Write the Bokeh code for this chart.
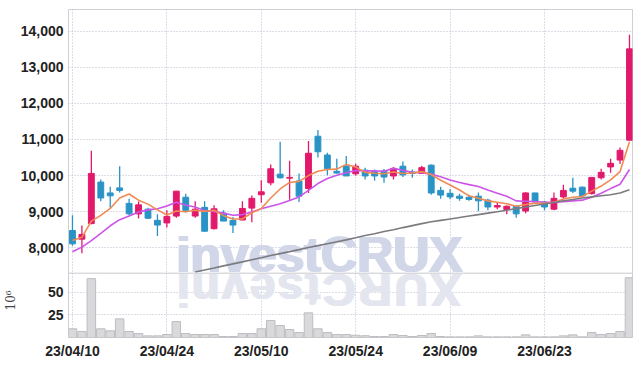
from bokeh.plotting import figure
from bokeh.models import Range1d, FixedTicker, NumeralTickFormatter, Span, Title
from bokeh.embed import file_html
from bokeh.resources import INLINE
from bokeh.core.properties import value
import math

# ---------------- data ----------------
dates = ["23/04/10", "23/04/11", "23/04/12", "23/04/13", "23/04/14", "23/04/17", "23/04/18", "23/04/19", "23/04/20", "23/04/21",
         "23/04/24", "23/04/25", "23/04/26", "23/04/27", "23/04/28", "23/05/02", "23/05/03", "23/05/04", "23/05/08", "23/05/09",
         "23/05/10", "23/05/11", "23/05/12", "23/05/15", "23/05/16", "23/05/17", "23/05/18", "23/05/19", "23/05/22", "23/05/23",
         "23/05/24", "23/05/25", "23/05/26", "23/05/30", "23/05/31", "23/06/01", "23/06/02", "23/06/05", "23/06/07", "23/06/08",
         "23/06/09", "23/06/12", "23/06/13", "23/06/14", "23/06/15", "23/06/16", "23/06/19", "23/06/20", "23/06/21", "23/06/22",
         "23/06/23", "23/06/26", "23/06/27", "23/06/28", "23/06/29", "23/06/30", "23/07/03", "23/07/04", "23/07/05", "23/07/06"]

opens = [8480, 8240, 8670, 9820, 9520, 9660, 9230, 8940, 9070, 8760,
         8690, 8880, 9400, 8880, 9120, 8530, 8960, 8760, 8770, 9100,
         9470, 9800, 10040, 9930, 9850, 9640, 11090, 10570, 10120, 10260,
         10050, 10150, 10110, 10130, 9990, 10260, 10100, 10060, 10290, 9590,
         9510, 9430, 9400, 9430, 9320, 9130, 9060, 9150, 9020, 9520,
         9270, 9070, 9410, 9650, 9680, 9500, 9940, 10240, 10430, 10980]
highs = [8900, 8620, 10690, 9890, 9690, 10260, 9360, 9280, 9110, 8930,
         9040, 9570, 9500, 9290, 9290, 9180, 9040, 8850, 9290, 9450,
         9870, 10310, 10940, 10410, 10060, 10960, 11260, 10630, 10470, 10540,
         10330, 10220, 10170, 10180, 10240, 10390, 10170, 10270, 10310, 9690,
         9630, 9500, 9470, 9530, 9360, 9240, 9170, 9180, 9540, 9520,
         9300, 9530, 9750, 9940, 9700, 9960, 10190, 10470, 10780, 13900]
lows = [8060, 7850, 8650, 9290, 9110, 9530, 8900, 8810, 8800, 8330,
        8560, 8830, 8980, 8830, 8450, 8510, 8740, 8410, 8760, 8710,
        9250, 9730, 9920, 9330, 9270, 9520, 10500, 10010, 10060, 9990,
        10000, 9890, 9860, 9800, 9890, 9960, 9940, 10060, 9470, 9360,
        9350, 9300, 9300, 9010, 9040, 9070, 8930, 8830, 8960, 9270,
        9040, 9040, 9360, 9520, 9430, 9480, 9890, 10080, 10320, 10980]
closes = [8110, 8370, 10060, 9380, 9440, 9590, 8940, 9190, 8820, 8630,
          8870, 9570, 9040, 9070, 8460, 9080, 8740, 8630, 9090, 9370,
          9550, 10190, 9940, 9950, 9430, 10620, 10660, 10190, 10070, 9990,
          10260, 9990, 9990, 9960, 10200, 10020, 10060, 10220, 9520, 9460,
          9410, 9370, 9340, 9300, 9130, 9170, 9150, 8940, 9520, 9270,
          9130, 9370, 9590, 9570, 9440, 9950, 10090, 10340, 10700, 13510]

ma_short = [8200, 8290, 8740, 8900, 9090, 9380, 9490, 9320, 9210, 9050,
            8910, 9020, 9000, 9040, 9010, 9040, 8890, 8800, 8800, 8970,
            9090, 9380, 9630, 9810, 9840, 10000, 10120, 10170, 10180, 10310,
            10240, 10090, 10065, 10050, 10100, 10060, 10070, 10110, 10030, 9870,
            9740, 9600, 9440, 9370, 9300, 9260, 9220, 9150, 9200, 9230,
            9230, 9260, 9350, 9400, 9420, 9570, 9710, 9880, 10110, 10940]
ma_mid = [7890, 8020, 8200, 8400, 8610, 8780, 8880, 8990, 9050, 9080,
          9160, 9260, 9180, 9130, 9030, 9010, 8960, 8900, 8920, 8990,
          9080, 9150, 9220, 9310, 9410, 9590, 9780, 9920, 10010, 10080,
          10140, 10130, 10130, 10120, 10200, 10150, 10090, 10080, 10040, 9970,
          9880, 9810, 9750, 9700, 9600, 9510, 9430, 9300, 9290, 9280,
          9260, 9260, 9280, 9300, 9320, 9400, 9510, 9640, 9760, 10170]
ma_long_start = 13
ma_long = [7330, 7385, 7440, 7500, 7555, 7610, 7670, 7725, 7785,
           7840, 7895, 7950, 8010, 8060, 8115, 8170, 8220, 8280, 8340,
           8390, 8450, 8500, 8560, 8615, 8670, 8720, 8760, 8800, 8840,
           8880, 8920, 8960, 9000, 9040, 9085, 9130, 9170, 9215, 9255,
           9300, 9340, 9380, 9410, 9440, 9470, 9520, 9610]

volume = [9.6, 6.6, 65, 9.6, 7.4, 20.6, 6.6, 4.4, 1.8, 1.8,
          3.3, 17.6, 4.4, 3.3, 3.3, 3.3, 1.1, 1.1, 4.4, 4.4,
          9.6, 18.8, 13.2, 8.8, 5.5, 27.2, 9.6, 5.5, 3.3, 3.3,
          2.5, 2.0, 1.1, 1.1, 3.3, 2.2, 1.1, 2.2, 4.4, 1.1,
          0.7, 0.7, 0.7, 1.8, 0.7, 0.7, 0.7, 0.7, 2.9, 0.7,
          0.7, 0.7, 1.8, 2.9, 0.7, 5.5, 3.3, 4.4, 6.6, 66]

price_ticks = [8000, 9000, 10000, 11000, 12000, 13000, 14000]
volume_ticks = [25, 50]
volume_unit = "10⁶"
label_every = 10

# ---------------- styling / layout ----------------
RED = "#e2196b"
BLUE = "#2a93c6"
GRID = "#b8bccf"
FONT = "Liberation Sans"
TICK_COLOR = "#222222"

W, H = 642, 366
FR_L, FR_R, FR_T, FR_B = 68, 632, 9, 337      # frame edges (px)
SPLIT = 272.7                                 # boundary price / volume panel (px)
P_LO, P_HI = 7297, 14600                      # price shown in upper panel
V_TOP = 71                                    # volume shown at the boundary

p_per_px = (P_HI - P_LO) / (SPLIT - FR_T)
P_LO_FULL = P_LO - (FR_B - SPLIT) * p_per_px
v_per_px = V_TOP / (FR_B - SPLIT)
V_HI_FULL = (FR_B - FR_T) * v_per_px

n = len(dates)
idx = list(range(n))
x_ticks = list(range(0, n, label_every))
colors = [RED if c >= o else BLUE for o, c in zip(opens, closes)]
tops = [max(o, c) for o, c in zip(opens, closes)]
bots = [min(o, c) for o, c in zip(opens, closes)]

X_LO, X_HI = -0.42, 59.32
p = figure(width=W, height=H, x_range=Range1d(X_LO, X_HI), y_range=Range1d(P_LO_FULL, P_HI),
           output_backend="svg", toolbar_location=None,
           min_border_left=FR_L, min_border_right=W - FR_R, min_border_top=FR_T, min_border_bottom=H - FR_B)
p.extra_y_ranges = {"vol": Range1d(0, V_HI_FULL)}
p.background_fill_color = "white"
p.border_fill_color = "white"
p.outline_line_color = "#cfcfd6"

# shared left axis: price ticks + volume ticks at their heights in the lower panel
vol_tick_pos = [round(P_LO_FULL + t / V_HI_FULL * (P_HI - P_LO_FULL)) for t in volume_ticks]
y_tick_pos = vol_tick_pos + price_ticks
p.yaxis.ticker = FixedTicker(ticks=y_tick_pos)
p.yaxis.formatter = NumeralTickFormatter(format="0,0")
p.yaxis.major_label_overrides = {pos: str(t) for pos, t in zip(vol_tick_pos, volume_ticks)}
p.ygrid.ticker = FixedTicker(ticks=y_tick_pos)
p.xaxis.ticker = FixedTicker(ticks=x_ticks)
p.xaxis.major_label_overrides = {i: dates[i] for i in x_ticks}
p.xgrid.ticker = FixedTicker(ticks=x_ticks)
for g in [p.xgrid[0], p.ygrid[0]]:
    g.grid_line_color = GRID
    g.grid_line_dash = "1 2"
    g.grid_line_width = 1
for ax in [p.xaxis[0], p.yaxis[0]]:
    ax.axis_line_color = None
    ax.major_tick_line_color = None
    ax.minor_tick_line_color = None
    ax.major_tick_out = 0
    ax.minor_tick_out = 0
    ax.major_label_standoff = 5
    ax.major_label_text_font = FONT
    ax.major_label_text_font_size = "14px"
    ax.major_label_text_font_style = "bold"
    ax.major_label_text_color = TICK_COLOR

# volume unit, rotated at the left next to the volume ticks
p.add_layout(Title(text=volume_unit, align="left", offset=27, standoff=0,
                   text_font="DejaVu Serif", text_font_size="12px", text_font_style="normal",
                   text_color="#444444"), "left")

# boundary between price and volume panels
p.add_layout(Span(location=P_LO, dimension="width", line_color="#c9c9d0", line_width=1))

# watermark (upright over the price panel, mirrored below it)
WM = "investCRUX"
wm_w = {"i": 278, "n": 611, "v": 556, "e": 556, "s": 556, "t": 333, "C": 722, "R": 722, "U": 722, "X": 667}
wm_size = 50
px_per_unit = (FR_R - FR_L) / (X_HI - X_LO)
wm_left_px = 176 - 72
cx = []
acc = wm_left_px
for ch in WM:
    w = wm_w[ch] / 1000 * wm_size
    cx.append((acc + w / 2) / px_per_unit)
    acc += w
wm_y = P_LO + (SPLIT - 254) * p_per_px
for dx in (-1.2, 0, 1.2):
    p.text(x=[wm_left_px / px_per_unit], y=[wm_y], text=[WM], text_font=value("Liberation Sans"),
           text_font_style="bold", text_font_size=f"{wm_size}px", text_color="#d1d7e8",
           text_baseline="middle", text_align="left", x_offset=dx)
refl_y = (FR_B - 289.5) * v_per_px
for dx in (-1.0, 0, 1.0):
    p.text(x=cx, y=[refl_y] * len(WM), text=list(WM), text_font=value("Liberation Sans"),
           text_font_style="bold", text_font_size="46px", text_color="#e4e6ef",
           text_baseline="middle", text_align="center", angle=math.pi, x_offset=dx,
           y_range_name="vol")

# volume bars
p.vbar(x=idx, top=volume, width=0.9, fill_color="#d9d9db", line_color="#bdbdc2", line_width=1,
       y_range_name="vol")

# candles
p.segment(x0=idx, y0=lows, x1=idx, y1=highs, line_color=colors, line_width=1.3)
p.vbar(x=idx, top=tops, bottom=bots, width=0.62, fill_color=colors, line_color=colors, line_width=1)

# moving averages
p.line(idx, ma_mid, line_color="#cc55e8", line_width=1.6)
p.line(idx, ma_short, line_color="#f08a52", line_width=1.6)
p.line(list(range(ma_long_start, n)), ma_long, line_color="#7b7b80", line_width=1.6)

open("out.html", "w").write(file_html(p, INLINE))
